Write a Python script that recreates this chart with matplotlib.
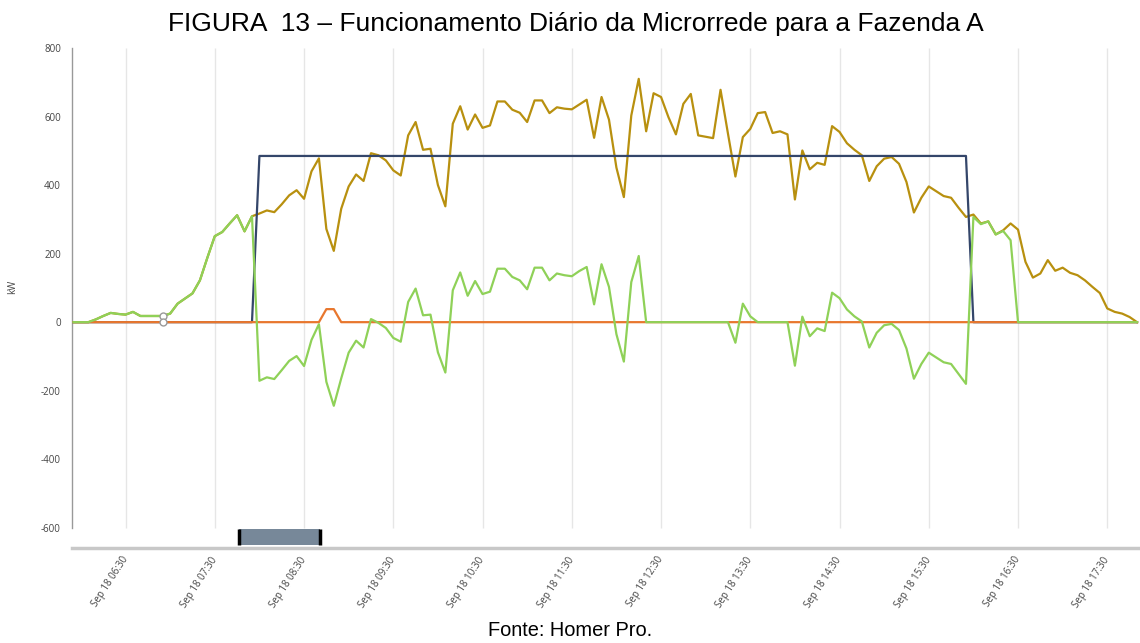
import pandas as pd
import matplotlib
matplotlib.use("Agg")
import matplotlib.pyplot as plt
import matplotlib.dates as mdates
from matplotlib.patches import Rectangle

plt.rcParams["axes.unicode_minus"] = False

# 5-minute steps, Sep 18 05:55 -> 17:50
times = pd.date_range("2023-09-18 05:55", periods=144, freq="5min")

# PV output (gold)
pv = [0, 0, 0, 8, 18, 27, 24, 22, 30, 18, 18, 18, 18, 25, 54, 69, 84, 122, 188, 251,
      263, 288, 312, 265, 309, 317, 326, 321, 344, 370, 385, 360, 440, 478, 272, 208,
      331, 396, 431, 412, 493, 487, 472, 443, 428, 545, 584, 503, 506, 400, 338, 579,
      630, 562, 606, 567, 574, 644, 644, 620, 611, 584, 647, 647, 610, 627, 623, 621,
      635, 649, 538, 657, 591, 451, 365, 603, 710, 557, 668, 657, 598, 548, 637, 666,
      545, 541, 537, 678, 550, 425, 540, 564, 610, 613, 552, 557, 548, 358, 501, 446,
      465, 459, 572, 555, 522, 503, 487, 412, 455, 477, 482, 462, 409, 320, 363, 396,
      382, 368, 363, 334, 307, 314, 288, 294, 256, 268, 288, 270, 176, 130, 142, 181,
      150, 159, 144, 137, 122, 103, 85, 40, 30, 25, 15, 0]

# load (navy)
load = [0] * 25 + [485] * 96 + [0] * 23

# generator (orange)
gen = [0] * 34 + [38, 38] + [0] * 108

# battery / grid (green)
batt = [0, 0, 0, 8, 18, 27, 24, 22, 30, 18, 18, 18, 18, 25, 54, 69, 84, 122, 188, 251,
        263, 288, 312, 265, 309, -171, -161, -166, -140, -113, -99, -128, -52, -6, -174,
        -244, -164, -89, -54, -74, 9, -2, -17, -46, -57, 59, 98, 20, 22, -88, -147, 93,
        145, 77, 120, 82, 89, 156, 156, 132, 122, 96, 159, 159, 122, 142, 137, 134, 149,
        161, 52, 169, 103, -35, -115, 117, 193, 0, 0, 0, 0, 0, 0, 0, 0, 0, 0, 0, 0, -60,
        54, 17, 0, 0, 0, 0, 0, -127, 16, -41, -18, -26, 86, 70, 37, 17, 2, -74, -31, -9,
        -5, -23, -77, -165, -122, -89, -103, -117, -122, -151, -180, 307, 286, 294, 256,
        266, 239, 0, 0, 0, 0, 0, 0, 0, 0, 0, 0, 0, 0, 0, 0, 0, 0, 0]

xticks = pd.date_range("2023-09-18 06:30", "2023-09-18 17:30", freq="1h")
yticks = [-600, -400, -200, 0, 200, 400, 600, 800]

W, H = 1140, 643
fig = plt.figure(figsize=(W / 100, H / 100), dpi=100)
ax = fig.add_axes([72 / W, 1 - 548 / H, 1 - 72 / W, 500 / H])

ax.vlines(xticks, -600, 800, color="#e6e6e6", lw=1, zorder=0)
ax.plot(times, pv, color="#b8900f", lw=1.6, zorder=2)
ax.plot(times, load, color="#34466a", lw=1.6, zorder=3)
ax.plot(times, gen, color="#e8772e", lw=1.6, zorder=4)
ax.plot(times, batt, color="#8fd158", lw=1.6, zorder=5)

# hover markers
ax.plot([times[12], times[12]], [batt[12], gen[12]], "o", ms=5, mfc="white",
        mec="#999999", mew=1, zorder=6)

# navigator handle under the plot
x0, x1 = pd.Timestamp("2023-09-18 07:46"), pd.Timestamp("2023-09-18 08:41")
ax.add_patch(Rectangle((mdates.date2num(x0), -650), mdates.date2num(x1) - mdates.date2num(x0),
                       47, facecolor="#778899", edgecolor="none", zorder=3))
ax.vlines([x0, x1], -650, -603, color="black", lw=2.5, zorder=4)

ax.set_ylim(-659, 800)
ax.set_xlim(times[0] - pd.Timedelta(minutes=1), times[-1] + pd.Timedelta(minutes=2))

for s in ("top", "right"):
    ax.spines[s].set_visible(False)
ax.spines["left"].set_bounds(-600, 800)
ax.spines["left"].set_color("#999999")
ax.spines["left"].set_linewidth(1)
ax.spines["bottom"].set_color("#c8c8c8")
ax.spines["bottom"].set_linewidth(2.5)

ax.set_yticks(yticks)
ax.set_xticks(xticks)
ax.xaxis.set_major_formatter(mdates.DateFormatter("%b %d %H:%M"))
ax.tick_params(axis="y", length=0, pad=8, labelsize=7, labelcolor="#444444")
ax.tick_params(axis="x", length=0, pad=7, labelsize=7, labelcolor="#444444")
for lab in ax.get_xticklabels() + ax.get_yticklabels():
    lab.set_family("Open Sans")
for lab in ax.get_xticklabels():
    lab.set_rotation(57)
    lab.set_ha("right")
    lab.set_va("center")
    lab.set_rotation_mode("anchor")

fig.text(13 / W, 1 - 287 / H, "kW", rotation=90, ha="center", va="center",
         fontsize=7, color="#444444", family="Open Sans")
fig.text(576 / W, 1 - 31 / H, "FIGURA  13 \u2013 Funcionamento Di\u00e1rio da Microrrede para a Fazenda A",
         ha="center", va="baseline", fontsize=19, family="Liberation Sans")
fig.text(570 / W, 1 - 636 / H, "Fonte: Homer Pro.", ha="center", va="baseline",
         fontsize=14.4, family="Liberation Sans")

fig.savefig("out.png", dpi=100)
